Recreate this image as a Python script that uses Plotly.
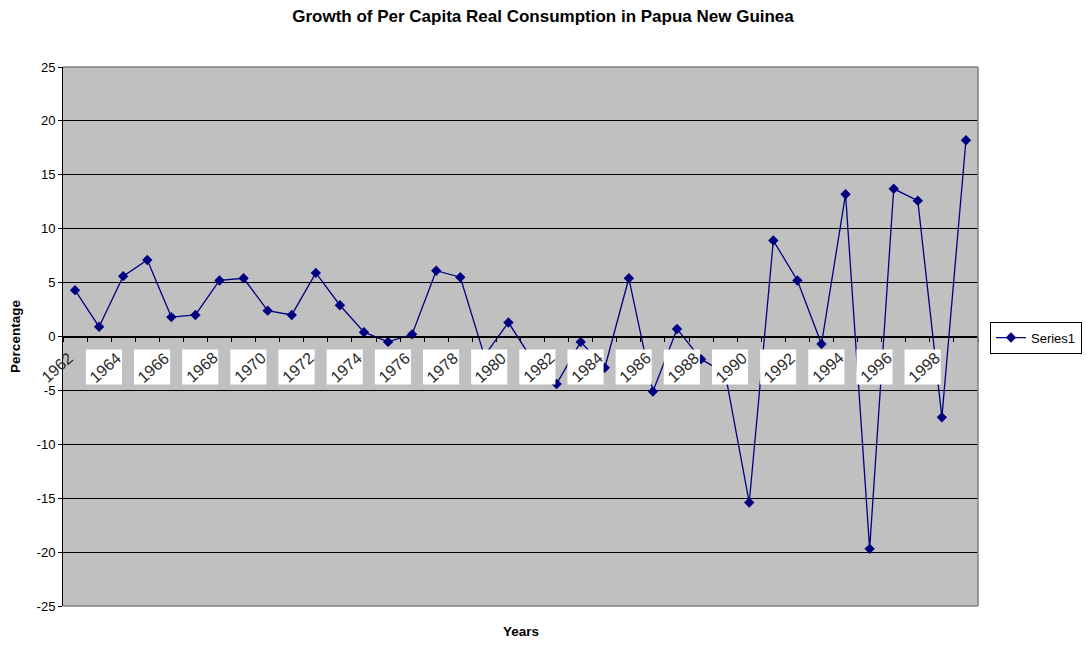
import plotly.graph_objects as go

years = list(range(1962, 2000))
growth = [4.3, 0.9, 5.6, 7.1, 1.8, 2.0, 5.2, 5.4, 2.4, 2.0,
          5.9, 2.9, 0.4, -0.5, 0.2, 6.1, 5.5, -1.8, 1.3, -2.2,
          -4.4, -0.5, -2.9, 5.4, -5.1, 0.7, -2.1, -3.4, -15.4, 8.9,
          5.2, -0.7, 13.2, -19.7, 13.7, 12.6, -7.5, 18.2]
label_years = list(range(1962, 2000, 2))
y_ticks = list(range(-25, 30, 5))
y_ticktext = [str(v) for v in y_ticks]

NAVY = "#000080"
FONT = "Liberation Sans, Arial, sans-serif"

fig = go.Figure()
fig.add_trace(go.Scatter(
    x=years, y=growth, mode="lines+markers", name="Series1",
    line=dict(color=NAVY, width=1.3),
    marker=dict(symbol="diamond", size=8, color=NAVY),
))

shapes = []
annotations = []
for yr in label_years:
    if yr != label_years[0]:
        shapes.append(dict(type="rect", xref="x", yref="y", layer="above",
                           x0=yr - 1.55, x1=yr - 0.05, y0=-4.45, y1=-1.2,
                           fillcolor="white", line=dict(width=0)))
    annotations.append(dict(x=yr, y=-2.83, xref="x", yref="y", xshift=-18,
                            text=str(yr), showarrow=False, textangle=-42,
                            font=dict(family=FONT, size=16, color="#2a2a2a")))

# plot-area border (top, right, bottom) in gray
for (x0, y0, x1, y1) in [(0, 1, 1, 1), (1, 0, 1, 1), (0, 0, 1, 0)]:
    shapes.append(dict(type="line", xref="paper", yref="paper", layer="above",
                       x0=x0, y0=y0, x1=x1, y1=y1,
                       line=dict(color="#808080", width=1.5)))

fig.update_layout(
    width=1086, height=645,
    margin=dict(l=63, r=108, t=67, b=39, autoexpand=False),
    paper_bgcolor="white", plot_bgcolor="#C0C0C0",
    font=dict(family=FONT, size=12, color="black"),
    title=dict(text="Growth of Per Capita Real Consumption in Papua New Guinea",
               x=0.5, xref="container", xanchor="center",
               y=1 - 16 / 645, yref="container", yanchor="middle",
               font=dict(family=FONT, size=17, color="black", weight="bold")),
    xaxis=dict(range=[1961.5, 1999.5], tickmode="linear", tick0=1961.5, dtick=1,
               showticklabels=False, ticks="outside", ticklen=4, tickcolor="black",
               showgrid=False, zeroline=False, showline=True, linecolor="black",
               linewidth=1.2, anchor="free", position=0.5),
    yaxis=dict(range=[-25, 25], tickmode="array", tickvals=y_ticks,
               ticktext=y_ticktext, tickfont=dict(size=13),
               ticks="outside", ticklen=4, tickcolor="black",
               showgrid=True, gridcolor="black", gridwidth=1,
               zeroline=True, zerolinecolor="black", zerolinewidth=1.2,
               showline=True, linecolor="black", linewidth=1,
               title=dict(text="Percentage", standoff=12,
                          font=dict(family=FONT, size=13.5, weight="bold"))),
    legend=dict(x=(990 - 63) / 915, y=0.498, xanchor="left", yanchor="middle",
                bgcolor="white", bordercolor="black", borderwidth=1,
                font=dict(family=FONT, size=13), itemwidth=30),
    shapes=shapes,
    annotations=annotations + [
        dict(text="<b>Years</b>", x=0.5, xref="paper",
             y=(645 - 39 - 631) / (645 - 67 - 39), yref="paper", yanchor="middle",
             showarrow=False, font=dict(family=FONT, size=13.5))
    ],
    showlegend=True,
)

fig.write_html("out.html")
